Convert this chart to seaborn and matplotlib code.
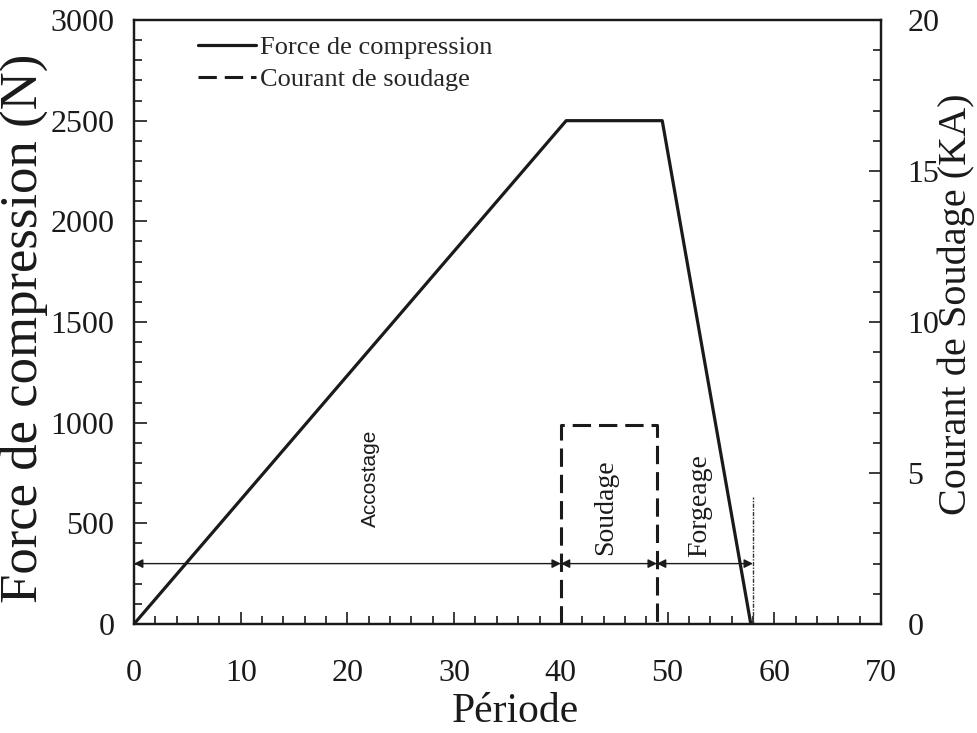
import matplotlib
matplotlib.use("Agg")
import matplotlib.pyplot as plt
from matplotlib.lines import Line2D
from matplotlib.ticker import MultipleLocator
import seaborn as sns
import pandas as pd

# Force cycle (N) over the welding periods
force_period = [0, 40.5, 49.5, 57.8]
force_value = [0, 2500, 2500, 0]

# Welding current (kA) pulse
current_period = [40, 40, 49, 49]
current_value = [0, 6.6, 6.6, 0]

# Phase boundaries and labels
phase_bounds = [0, 40, 49, 58]
phase_names = ["Accostage", "Soudage", "Forgeage"]
phase_label_x = [22.2, 44.2, 53.0]
phase_label_y = [725, 578, 586]
arrow_level = 300
end_marker_top = 630

INK = "#1a1a1a"

sns.set_theme(style="ticks")
plt.rcParams["font.family"] = ["Liberation Serif", "DejaVu Serif"]
plt.rcParams["mathtext.fontset"] = "stix"

fig = plt.figure(figsize=(9.77, 7.33), dpi=100)
ax = fig.add_axes([134 / 977, 1 - 624 / 733, 747 / 977, 604 / 733])
ax2 = ax.twinx()

force_df = pd.DataFrame({"Période": force_period, "Force": force_value})
current_df = pd.DataFrame({"Période": current_period, "Courant": current_value})

sns.lineplot(data=force_df, x="Période", y="Force", ax=ax, sort=False,
             estimator=None, color=INK, linewidth=2.3)
sns.lineplot(data=current_df, x="Période", y="Courant", ax=ax2, sort=False,
             estimator=None, color=INK, linewidth=2.2,
             linestyle=(0, (6, 2.6)))

ax.set_xlim(0, 70)
ax.set_ylim(0, 3000)
ax2.set_ylim(0, 20)

# Phase arrows
for a, b in zip(phase_bounds[:-1], phase_bounds[1:]):
    ax.annotate("", xy=(b, arrow_level), xytext=(a, arrow_level),
                arrowprops=dict(arrowstyle="<|-|>", color=INK, lw=1.0,
                                mutation_scale=13, shrinkA=0, shrinkB=0))
ax.plot([phase_bounds[-1], phase_bounds[-1]], [0, end_marker_top],
        color="#333333", lw=1.0, linestyle=(0, (3, 1, 1, 1)))

label_fonts = [["Liberation Sans", "DejaVu Sans"],
               ["Liberation Serif", "DejaVu Serif"],
               ["Liberation Serif", "DejaVu Serif"]]
label_sizes = [15, 20, 20]
for name, px, py, fam, fs in zip(phase_names, phase_label_x, phase_label_y,
                                 label_fonts, label_sizes):
    ax.text(px, py, name, rotation=90, ha="center", va="center",
            fontsize=fs, family=fam, color=INK)

# Axes styling
for a_ in (ax, ax2):
    for s in a_.spines.values():
        s.set_linewidth(1.6)
        s.set_color(INK)

ax.xaxis.set_major_locator(MultipleLocator(10))
ax.xaxis.set_minor_locator(MultipleLocator(2))
ax.yaxis.set_major_locator(MultipleLocator(500))
ax.yaxis.set_minor_locator(MultipleLocator(100))
ax2.yaxis.set_major_locator(MultipleLocator(5))
ax2.yaxis.set_minor_locator(MultipleLocator(1))

ax.tick_params(axis="both", which="both", direction="in", color=INK,
               width=1.2, labelsize=23, labelcolor=INK)
ax.tick_params(which="major", length=9)
ax.tick_params(which="minor", length=6)
ax.tick_params(axis="x", pad=25)
ax.tick_params(axis="y", pad=14)
ax2.tick_params(axis="y", which="both", direction="in", color=INK,
                width=1.2, labelsize=23, labelcolor=INK, pad=19)
ax2.tick_params(which="major", length=9)
ax2.tick_params(which="minor", length=6)

ax.set_xlabel("Période", fontsize=30, color=INK)
ax.xaxis.set_label_coords(0.51, -0.114)
ax.set_ylabel("Force de compression (N)", fontsize=38, color=INK)
ax.yaxis.set_label_coords(-0.115, 0.49)
ax2.set_ylabel("Courant de Soudage (KA)", fontsize=29, color=INK)
ax2.yaxis.set_label_coords(1.075, 0.53)

handles = [
    Line2D([], [], color=INK, lw=2.3),
    Line2D([], [], color=INK, lw=2.2, linestyle=(0, (6, 2.6))),
]
ax.legend(handles, ["Force de compression", "Courant de soudage"],
          loc="upper left", bbox_to_anchor=((198 - 134) / 747, (624 - 36) / 604),
          frameon=False, fontsize=19, handlelength=2.2, handletextpad=0.15,
          labelspacing=0.3, borderaxespad=0, borderpad=0)

fig.savefig("out.png", dpi=100, facecolor="white")
